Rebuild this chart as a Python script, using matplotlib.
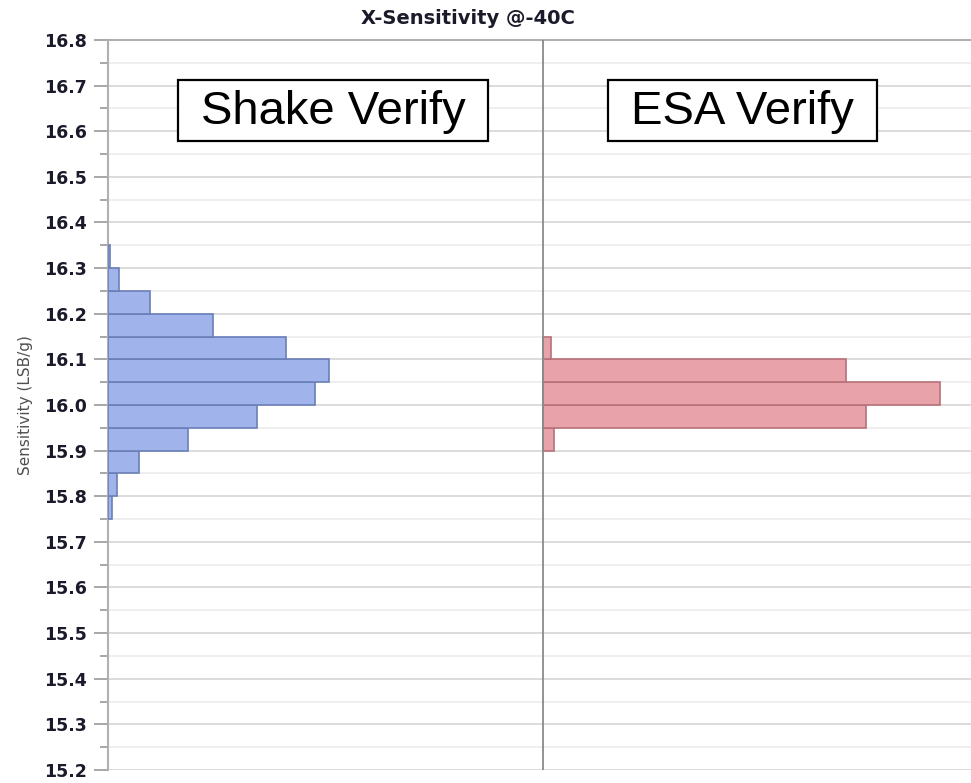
import numpy as np
import matplotlib.pyplot as plt
from matplotlib.patches import Rectangle
from matplotlib.ticker import MultipleLocator

# bin bottoms (lower edge of each 0.05 bin) and counts for each group
shake_bins = [15.75, 15.80, 15.85, 15.90, 15.95, 16.00, 16.05, 16.10, 16.15, 16.20, 16.25, 16.30]
shake_counts = [1.7, 4, 14, 36, 67, 93, 99, 80, 47, 19, 5, 1]
esa_bins = [15.90, 15.95, 16.00, 16.05, 16.10]
esa_counts = [5, 145, 178, 136, 3.5]
groups = ["Shake Verify", "ESA Verify"]
panel_max = 195  # counts spanning one group panel

W, H = 971, 783
fig = plt.figure(figsize=(W / 100, H / 100), dpi=100)
ax = fig.add_axes([108 / W, 13 / H, 870 / W, 730 / H])

ax.barh(shake_bins, shake_counts, height=0.05, left=0, align='edge',
        color='#a0b4eb', edgecolor='#6a7fb8', linewidth=1.2, zorder=3)
ax.barh(esa_bins, esa_counts, height=0.05, left=panel_max, align='edge',
        color='#e8a3aa', edgecolor='#b87178', linewidth=1.2, zorder=3)

ax.axvline(panel_max, color='#8a8a8a', lw=1.3, zorder=4)

ax.set_xlim(0, 2 * panel_max)
ax.set_ylim(15.2, 16.8)
ax.yaxis.set_major_locator(MultipleLocator(0.1))
ax.yaxis.set_minor_locator(MultipleLocator(0.05))
ax.set_xticks([])
ax.grid(which='major', axis='y', color='#d9d9d9', lw=1.3, zorder=0)
ax.grid(which='minor', axis='y', color='#eeeeee', lw=1.3, zorder=0)
ax.tick_params(axis='y', which='major', length=10, width=1.3, color='#a0a0a0', pad=5)
ax.tick_params(axis='y', which='minor', length=6, width=1.3, color='#a0a0a0')
for lbl in ax.get_yticklabels():
    lbl.set_fontweight('bold')
    lbl.set_fontsize(12.5)
    lbl.set_color('#1a1a2a')

for s in ['right', 'bottom']:
    ax.spines[s].set_visible(False)
for s in ['left', 'top']:
    ax.spines[s].set_color('#b0b0b0')
    ax.spines[s].set_linewidth(1.5)

ax.set_ylabel("Sensitivity (LSB/g)", fontsize=11, color='#505050', labelpad=8)

fig.text(468 / W, 1 - 18 / H, "X-Sensitivity @-40C", ha='center', va='center',
         fontsize=14, fontweight='bold', color='#1a1a2a')

# group labels in boxes (pixel boxes)
for name, (x0, x1) in zip(groups, [(178, 488), (608, 877)]):
    fig.patches.append(Rectangle((x0 / W, 1 - 141 / H), (x1 - x0) / W, 61 / H,
                                 transform=fig.transFigure, fc='white', ec='black',
                                 lw=1.6, zorder=5))
    fig.text((x0 + x1) / 2 / W, 1 - 112 / H, name, ha='center', va='center',
             fontsize=34, family='Liberation Sans', color='black', zorder=6)

fig.savefig('out.png', dpi=100)
